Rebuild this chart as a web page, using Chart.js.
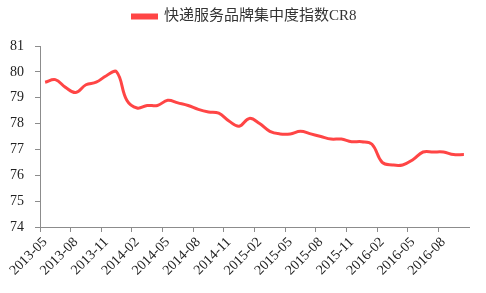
<!DOCTYPE html>
<html>
<head>
<meta charset="utf-8">
<script src="https://cdn.jsdelivr.net/npm/chart.js@4.4.0/dist/chart.umd.min.js"></script>
<style>
  html, body { margin: 0; padding: 0; background: #fff; }
  #wrap { width: 486px; height: 293px; }
</style>
</head>
<body>
<div id="wrap"><canvas id="lineChart" width="486" height="293"></canvas></div>
<script>
// meses 2013-05 .. 2016-10
const meses = [
    "2013-05", "2013-06", "2013-07", "2013-08", "2013-09", "2013-10", "2013-11", "2013-12",
    "2014-01", "2014-02", "2014-03", "2014-04", "2014-05", "2014-06", "2014-07", "2014-08",
    "2014-09", "2014-10", "2014-11", "2014-12",
    "2015-01", "2015-02", "2015-03", "2015-04", "2015-05", "2015-06", "2015-07", "2015-08",
    "2015-09", "2015-10", "2015-11", "2015-12",
    "2016-01", "2016-02", "2016-03", "2016-04", "2016-05", "2016-06", "2016-07", "2016-08",
    "2016-09", "2016-10"
];
const valoresCR8 = [
    79.6, 79.7, 79.4, 79.2, 79.5, 79.6, 79.85, 80.0,
    78.9, 78.6, 78.7, 78.7, 78.9, 78.8, 78.7, 78.55,
    78.45, 78.4, 78.1, 77.9,
    78.2, 78.0, 77.7, 77.6, 77.6, 77.7, 77.6, 77.5,
    77.4, 77.4, 77.3, 77.3,
    77.2, 76.5, 76.4, 76.4, 76.6, 76.9, 76.9, 76.9,
    76.8, 76.8
];
const nombreSerie = "快递服务品牌集中度指数CR8";
const ejeY = { min: 74, max: 81, paso: 1 };

const rojo = "#ff4545";
const gris = "#8c8c8c";
const fuenteSerif = "'Liberation Serif', 'Noto Sans CJK SC', serif";

// espacio extra debajo de la leyenda y leyenda centrada en el lienzo
const margenLeyenda = {
    id: "margenLeyenda",
    beforeInit(chart) {
        const fitOriginal = chart.legend.fit;
        chart.legend.fit = function () {
            fitOriginal.bind(chart.legend)();
            this.height += 12;
        };
    },
    afterLayout(chart) {
        chart.legend.left += 10;
        chart.legend.right += 10;
    },
};

const ctx = document.getElementById("lineChart").getContext("2d");
new Chart(ctx, {
    type: "line",
    data: {
        labels: meses,
        datasets: [
            {
                label: nombreSerie,
                data: valoresCR8,
                borderColor: rojo,
                backgroundColor: rojo,
                borderWidth: 3,
                pointRadius: 0,
                tension: 0.4,
            },
        ],
    },
    options: {
        responsive: false,
        animation: false,
        layout: {
            padding: { top: 1, right: 17, left: 0, bottom: 0 },
        },
        plugins: {
            legend: {
                position: "top",
                labels: {
                    boxWidth: 24,
                    boxHeight: 3,
                    color: "#333",
                    padding: 8,
                    font: { family: fuenteSerif, size: 15 },
                },
            },
            tooltip: { enabled: false },
        },
        scales: {
            x: {
                offset: true,
                grid: {
                    offset: true,
                    drawOnChartArea: false,
                    tickLength: 5,
                    tickColor: (c) => (c.index % 3 === 0 ? gris : "rgba(0,0,0,0)"),
                },
                border: { color: gris, width: 1 },
                ticks: {
                    autoSkip: false,
                    maxRotation: 45,
                    minRotation: 45,
                    padding: 2,
                    color: "#222",
                    font: { family: fuenteSerif, size: 14 },
                    callback: function (val, i) {
                        return i % 3 === 0 ? this.getLabelForValue(val) : "";
                    },
                },
                afterFit: (scale) => {
                    scale.height = 66;
                },
            },
            y: {
                min: ejeY.min,
                max: ejeY.max,
                grid: {
                    drawOnChartArea: false,
                    tickLength: 5,
                    tickColor: gris,
                },
                border: { color: gris, width: 1 },
                ticks: {
                    stepSize: ejeY.paso,
                    padding: 11,
                    color: "#222",
                    font: { family: fuenteSerif, size: 14 },
                },
                afterFit: (scale) => {
                    scale.width = 40;
                },
            },
        },
    },
    plugins: [margenLeyenda],
});
</script>
</body>
</html>
